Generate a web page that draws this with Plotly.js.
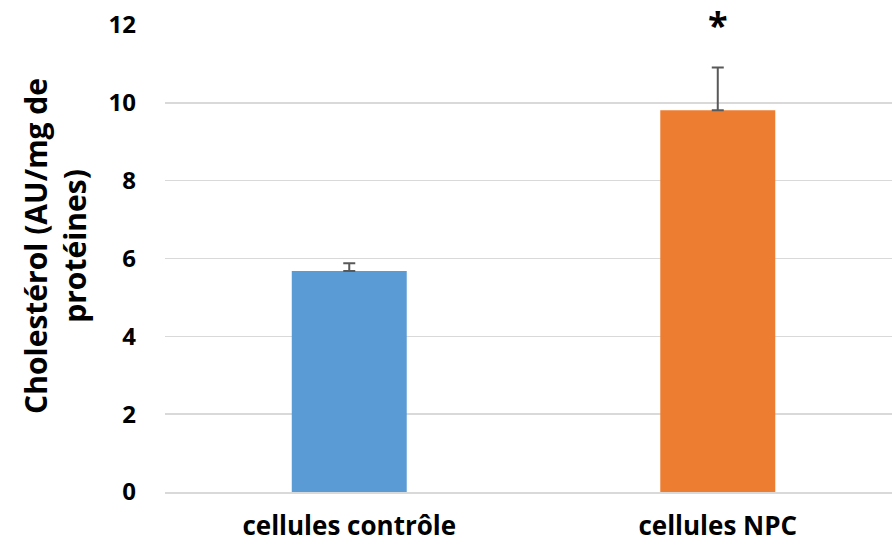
<!DOCTYPE html>
<html>
<head>
<meta charset="utf-8">
<script src="https://cdn.plot.ly/plotly-3.0.1.min.js"></script>
<style>html,body{margin:0;padding:0;background:#fff;}#chart{width:892px;height:548px;}</style>
</head>
<body>
<div id="chart"></div>
<script>
const categories = ["cellules contrôle", "cellules NPC"];
const values = [5.68, 9.81];
const errors = [0.2, 1.1];
const colors = ["#5b9bd5", "#ed7d31"];
const yTicks = [0, 2, 4, 6, 8, 10, 12];
const significance = ["", "*"];
const yTitle = "Cholestérol (AU/mg de<br>protéines)";

const FONT = "'Open Sans', 'Noto Sans', sans-serif";

const trace = {
  type: "bar",
  x: categories,
  y: values,
  width: 0.312,
  marker: {color: colors, line: {width: 0}},
  error_y: {type: "data", array: errors, symmetric: false, arrayminus: [0, 0], color: "#595959", thickness: 2, width: 6},
  hoverinfo: "x+y"
};

const annotations = categories.map((c, i) => ({
  x: c, y: values[i] + errors[i], xref: "x", yref: "y",
  text: significance[i], showarrow: false, yshift: 43,
  font: {family: FONT, size: 36, color: "#000", weight: "bold"}
})).filter(a => a.text);

annotations.push({
  x: 0, y: 0.527, xref: "paper", yref: "paper",
  xanchor: "center", yanchor: "middle", xshift: -110,
  textangle: -90, align: "center", showarrow: false,
  text: yTitle,
  font: {family: FONT, size: 30, color: "#000", weight: "bold"}
});

const layout = {
  width: 892, height: 548,
  margin: {l: 165, r: 0, t: 25, b: 56, pad: 0},
  paper_bgcolor: "#fff", plot_bgcolor: "#fff",
  showlegend: false,
  font: {family: FONT, color: "#000"},
  xaxis: {
    type: "category",
    range: [-0.5, 1.4728],
    showgrid: false,
    showline: true, linecolor: "#d9d9d9", linewidth: 2,
    ticks: "",
    ticklabelstandoff: 10,
    tickfont: {family: FONT, size: 26, color: "#000", weight: "bold"},
    fixedrange: true
  },
  yaxis: {
    range: [0, 12],
    tickvals: yTicks,
    ticktext: yTicks.map(String),
    showgrid: true, gridcolor: "#d9d9d9", gridwidth: 1.5,
    zeroline: false, showline: false, ticks: "",
    ticklabelstandoff: 28,
    tickfont: {family: FONT, size: 24, color: "#000", weight: "bold"},
    fixedrange: true
  },
  annotations: annotations
};

Plotly.newPlot("chart", [trace], layout, {displayModeBar: false, staticPlot: true});
</script>
</body>
</html>
